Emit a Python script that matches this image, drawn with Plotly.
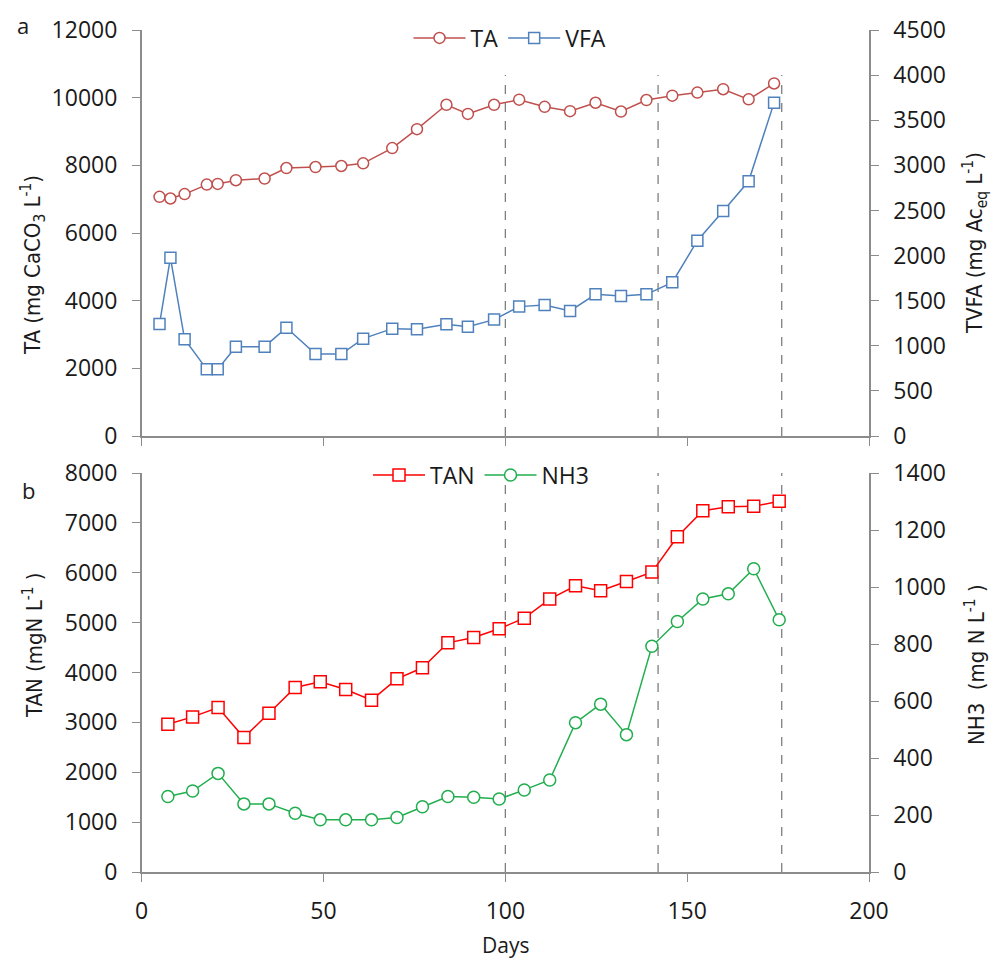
import plotly.graph_objects as go

# ---------------- data ----------------
ta_days = [4.9, 7.9, 11.8, 17.9, 20.9, 25.9, 33.8, 39.8, 47.8, 54.9, 60.9, 68.9, 75.7, 83.8,
           89.7, 96.9, 103.8, 110.8, 117.8, 124.8, 131.8, 138.8, 145.9, 152.8, 159.9, 166.9, 173.9]
ta = [7070, 7020, 7150, 7430, 7450, 7560, 7610, 7920, 7950, 7980, 8060, 8510, 9070, 9790,
      9520, 9790, 9940, 9730, 9600, 9850, 9590, 9930, 10060, 10150, 10250, 9950, 10420]
vfa = [1241, 1977, 1072, 739, 739, 990, 990, 1201, 909, 909, 1079, 1190, 1182, 1238,
       1212, 1290, 1434, 1452, 1386, 1570, 1552, 1570, 1703, 2165, 2494, 2823, 3695]

n_days = [7.2, 14.0, 21.0, 28.1, 35.0, 42.2, 49.1, 56.1, 63.2, 70.2, 77.2, 84.2, 91.3,
          98.3, 105.2, 112.2, 119.3, 126.2, 133.3, 140.3, 147.3, 154.3, 161.3, 168.3, 175.3]
tan = [2963, 3110, 3298, 2696, 3184, 3699, 3813, 3659, 3445, 3873, 4094, 4595, 4702,
       4876, 5090, 5472, 5739, 5639, 5826, 6013, 6722, 7244, 7324, 7331, 7432]
nh3 = [265, 284, 346, 239, 239, 206, 183, 183, 183, 191, 229, 265, 262,
       256, 288, 323, 524, 589, 482, 792, 879, 958, 976, 1064, 885]

phase_days = [100, 142, 176]
x_ticks = [0, 50, 100, 150, 200]
ta_ticks = [0, 2000, 4000, 6000, 8000, 10000, 12000]
vfa_ticks = [0, 500, 1000, 1500, 2000, 2500, 3000, 3500, 4000, 4500]
tan_ticks = [0, 1000, 2000, 3000, 4000, 5000, 6000, 7000, 8000]
nh3_ticks = [0, 200, 400, 600, 800, 1000, 1200, 1400]

# ---------------- styling ----------------
OFF = 8                      # default page body margin
W, H = 1003 - OFF, 969 - OFF
FONT = "Open Sans"
TITLE_FONT = "Liberation Sans Narrow, DejaVu Sans Condensed, Roboto, Open Sans"
AX = "#8c8c8c"
FS = 23

def px_x(p):
    return (p - OFF) / W

def px_y(p):
    return 1 - (p - OFF) / H

x_dom = [px_x(141.7), px_x(869)]
top_dom = [px_y(436), px_y(30)]
bot_dom = [px_y(872), px_y(473)]

fig = go.Figure()

def marker(symbol, color, size=11):
    return dict(symbol=symbol, size=size, color="white", line=dict(width=1.5, color=color))

fig.add_trace(go.Scatter(x=ta_days, y=ta, name="TA", mode="lines+markers", xaxis="x", yaxis="y",
                         line=dict(color="#C0504D", width=1.5), marker=marker("circle", "#C0504D"),
                         legend="legend"))
fig.add_trace(go.Scatter(x=ta_days, y=vfa, name="VFA", mode="lines+markers", xaxis="x", yaxis="y2",
                         line=dict(color="#4F81BD", width=1.5), marker=marker("square", "#4F81BD"),
                         legend="legend"))
fig.add_trace(go.Scatter(x=n_days, y=tan, name="TAN", mode="lines+markers", xaxis="x2", yaxis="y3",
                         line=dict(color="#FF0000", width=1.5), marker=marker("square", "#FF0000", 12),
                         legend="legend2"))
fig.add_trace(go.Scatter(x=n_days, y=nh3, name="NH3", mode="lines+markers", xaxis="x2", yaxis="y4",
                         line=dict(color="#21AE4E", width=1.5), marker=marker("circle", "#21AE4E", 12),
                         legend="legend2"))

# dashed phase lines
for d in phase_days:
    fig.add_shape(type="line", xref="x", yref="y2", x0=d, x1=d, y0=0, y1=4000,
                  line=dict(color="#7f7f7f", width=1.3, dash="dash"), layer="below")
    fig.add_shape(type="line", xref="x2", yref="y3", x0=d, x1=d, y0=0, y1=8000,
                  line=dict(color="#7f7f7f", width=1.3, dash="dash"), layer="below")

axis_common = dict(showline=True, linecolor=AX, linewidth=1.5, ticks="outside", ticklen=8,
                   tickcolor=AX, tickwidth=1.2, showgrid=False, zeroline=False, tickformat="d",
                   automargin=False,
                   tickfont=dict(family=FONT, size=FS, color="#1a1a1a"), ticklabelstandoff=10)

fig.update_layout(
    width=W, height=H, margin=dict(l=0, r=0, t=0, b=0, autoexpand=False),
    paper_bgcolor="white", plot_bgcolor="white", showlegend=True,
    xaxis=dict(domain=x_dom, anchor="y", range=[0, 200], tickvals=x_ticks, showticklabels=False, **axis_common),
    yaxis=dict(domain=top_dom, anchor="x", range=[0, 12000], tickvals=ta_ticks, **axis_common),
    yaxis2=dict(overlaying="y", anchor="x", side="right", range=[0, 4500], tickvals=vfa_ticks, **axis_common),
    xaxis2=dict(domain=x_dom, anchor="y3", range=[0, 200], tickvals=x_ticks, **axis_common),
    yaxis3=dict(domain=bot_dom, anchor="x2", range=[0, 8000], tickvals=tan_ticks, **axis_common),
    yaxis4=dict(overlaying="y3", anchor="x2", side="right", range=[0, 1400], tickvals=nh3_ticks, **axis_common),
    legend=dict(orientation="h", x=px_x(510), xanchor="center", y=px_y(38), yanchor="middle",
                font=dict(family=FONT, size=FS, color="#1a1a1a"), bgcolor="rgba(0,0,0,0)",
                itemwidth=52),
    legend2=dict(orientation="h", x=px_x(481), xanchor="center", y=px_y(475), yanchor="middle",
                 font=dict(family=FONT, size=FS, color="#1a1a1a"), bgcolor="rgba(0,0,0,0)",
                 itemwidth=52),
)

ann_font = dict(family=TITLE_FONT, size=22, color="#1a1a1a")
annotations = [
    dict(text="TA (mg CaCO<sub>3</sub> L<sup>-1</sup>)", x=px_x(33), y=px_y(265), textangle=-90),
    dict(text="TVFA (mg Ac<sub>eq</sub> L<sup>-1</sup>)", x=px_x(975), y=px_y(243), textangle=-90),
    dict(text="TAN (mgN L<sup>-1</sup> )", x=px_x(33), y=px_y(645), textangle=-90),
    dict(text="NH3  (mg N L<sup>-1</sup> )", x=px_x(975), y=px_y(665), textangle=-90),
]
for a in annotations:
    fig.add_annotation(xref="paper", yref="paper", showarrow=False, xanchor="center", yanchor="middle",
                       font=ann_font, **a)
other = [
    dict(text="Days", x=px_x(505), y=px_y(945), yanchor="middle",
         font=dict(family=FONT, size=21, color="#1a1a1a")),
    dict(text="a", x=px_x(23), y=1, yanchor="top", font=dict(family=FONT, size=22, color="#1a1a1a")),
    dict(text="b", x=px_x(28), y=px_y(490), yanchor="middle", font=dict(family=FONT, size=22, color="#1a1a1a")),
]
for a in other:
    fig.add_annotation(xref="paper", yref="paper", showarrow=False, xanchor="center", **a)

fig.write_html("out.html")
